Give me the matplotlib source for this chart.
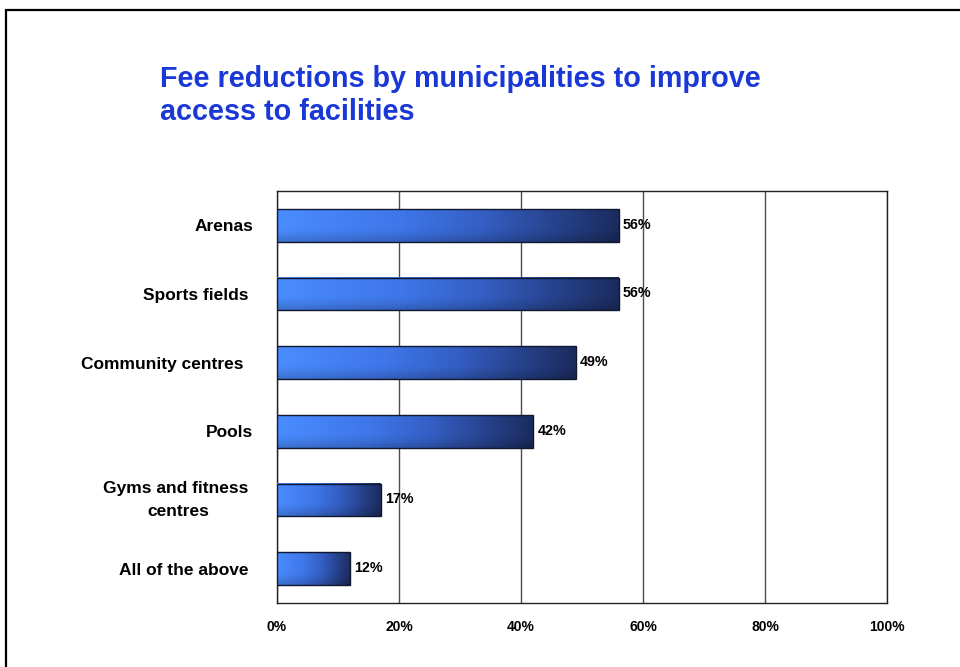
import numpy as np
import matplotlib
matplotlib.use("Agg")
import matplotlib.pyplot as plt
from matplotlib.colors import LinearSegmentedColormap
from matplotlib.patches import Rectangle

categories = ["Arenas", "Sports fields ", "Community centres  ", "Pools",
              "Gyms and fitness \ncentres", "All of the above "]
values = [56, 56, 49, 42, 17, 12]
xticks = [0, 20, 40, 60, 80, 100]
xtick_labels = ["0%", "20%", "40%", "60%", "80%", "100%"]
title = "Fee reductions by municipalities to improve\naccess to facilities"

W, H = 960, 667
fig = plt.figure(figsize=(W / 100, H / 100), dpi=100)
fig.patch.set_facecolor("white")

# outer slide frame
fig.patches.append(Rectangle((6 / W, -0.1), 1.2, (H - 10) / H + 0.1,
                             transform=fig.transFigure, fill=False,
                             edgecolor="black", linewidth=1.6))

fig.text(160 / W, 1 - 65 / H, title, ha="left", va="top",
         fontsize=20.7, fontweight="bold", color="#1a38d6",
         family=["Liberation Sans", "DejaVu Sans"], linespacing=1.24)

ax = fig.add_axes([277 / W, 1 - 603 / H, 610 / W, 412 / H])
n = len(categories)

cmap = LinearSegmentedColormap.from_list(
    "barfill",
    [(0.0, "#4a8cff"), (0.35, "#3f77ea"), (0.6, "#345fc4"),
     (0.82, "#27428c"), (1.0, "#1b2b5e")],
)
bar_h = 0.48
for i, (cat, v) in enumerate(zip(categories, values)):
    gx = np.linspace(0, 1, 200)[None, :]
    gy = np.linspace(0, 1, 40)[:, None]
    rgba = cmap(gx * np.ones_like(gy))
    shade = 1 - 0.2 * np.clip((gy - 0.55) / 0.45, 0, 1) ** 1.5
    rgba[..., :3] *= shade[..., None]
    y0, y1 = i - bar_h / 2, i + bar_h / 2
    ax.imshow(rgba, extent=(0, v, y1, y0), aspect="auto",
              interpolation="bilinear", zorder=3)
    ax.add_patch(Rectangle((0, y0), v, bar_h, fill=False,
                           edgecolor="#101830", linewidth=1.0, zorder=4))
    ax.text(v + 0.7, i - 0.01, f"{v}%", ha="left", va="center", fontsize=10.3,
            fontweight="bold", color="black", zorder=5,
            family=["Liberation Sans", "DejaVu Sans"])

ax.set_xlim(0, 100)
ax.set_ylim(n - 0.5, -0.5)

ax.set_xticks(xticks)
ax.set_xticklabels(xtick_labels, fontsize=10, fontweight="bold",
                   family=["Liberation Sans Narrow", "Liberation Sans"])
ax.tick_params(axis="x", length=0, pad=12)
ax.set_yticks(range(n))
ax.set_yticklabels(categories, fontsize=12.5, fontweight="bold",
                   family=["Liberation Sans", "DejaVu Sans"],
                   multialignment="center")
for lbl in ax.get_yticklabels():
    lbl.set_linespacing(1.75)
    if "\n" in lbl.get_text():
        lbl.set_va("center")
ax.tick_params(axis="y", length=0, pad=17)

ax.grid(axis="x", color="#4d4d4d", linewidth=1.0, zorder=1)
ax.set_axisbelow(True)
for s in ax.spines.values():
    s.set_color("#222222")
    s.set_linewidth(1.0)

fig.savefig("out.png", dpi=100)
